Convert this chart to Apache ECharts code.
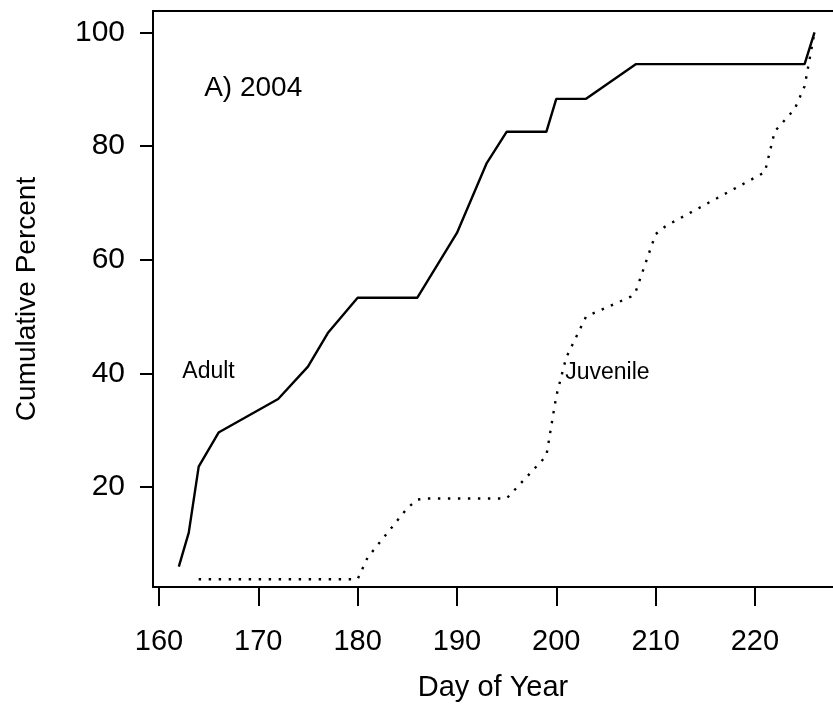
<!DOCTYPE html>
<html>
<head>
<meta charset="utf-8">
<script src="https://cdn.jsdelivr.net/npm/echarts@6/dist/echarts.min.js"></script>
<style>html,body{margin:0;padding:0;background:#fff;}#c{width:833px;height:714px;}</style>
</head>
<body>
<div id="c"></div>
<script>
// Adult cumulative percent by day of year (solid)
const adultDays = [162, 163, 164, 166, 172, 175, 177, 180, 186, 190, 193, 195, 199, 200, 203, 208, 225, 226];
const adultPct  = [6.0, 12.0, 23.6, 29.6, 35.5, 41.2, 47.1, 53.3, 53.3, 64.7, 77.0, 82.5, 82.5, 88.3, 88.3, 94.4, 94.4, 100];
// Juvenile cumulative percent by day of year (dotted)
const juvDays = [164, 180, 181, 185, 186, 187, 195, 199, 200, 201, 203, 207.5, 208, 210, 211, 221, 222, 224, 225, 226];
const juvPct  = [3.8, 3.8, 7.6, 16.3, 17.8, 18.0, 18.0, 25.5, 36.0, 42.8, 50.0, 53.5, 54.4, 64.5, 65.9, 75.4, 82.6, 86.5, 90.5, 100];
// Tick labels
const xTicks = [160, 170, 180, 190, 200, 210, 220];
const yTicks = [20, 40, 60, 80, 100];
// Text annotations [day, pct, text]
const notes = [[164.5, 90.2, 'A) 2004'], [162.3, 40.3, 'Adult'], [200.85, 40.1, 'Juvenile']];
const noteSizes = [28, 23, 23];

const FONT = '"Liberation Sans", Arial, Helvetica, sans-serif';
const X_MIN = 159.4, X_MAX = 227.86;
const chart = echarts.init(document.getElementById('c'), null, {renderer: 'canvas'});
chart.setOption({
  animation: false,
  backgroundColor: '#fff',
  grid: {left: 153, top: 11, right: 0, bottom: 127, show: false, containLabel: false},
  xAxis: [{
    type: 'value', min: X_MIN, max: X_MAX,
    name: 'Day of Year', nameLocation: 'middle', nameGap: 86,
    nameTextStyle: {fontFamily: FONT, fontSize: 29, color: '#000'},
    axisLine: {show: true, onZero: false, lineStyle: {color: '#000', width: 2}},
    axisTick: {show: true, length: 19, lineStyle: {color: '#000', width: 2}, customValues: xTicks},
    axisLabel: {fontFamily: FONT, fontSize: 29, color: '#000', margin: 40, customValues: xTicks},
    splitLine: {show: false}
  }, {
    type: 'value', min: X_MIN, max: X_MAX, position: 'top',
    axisLine: {show: true, onZero: false, lineStyle: {color: '#000', width: 2}},
    axisTick: {show: false}, axisLabel: {show: false}, splitLine: {show: false}
  }],
  yAxis: {
    type: 'value', min: 2.43, max: 103.75,
    name: 'Cumulative Percent', nameLocation: 'middle', nameGap: 112,
    nameTextStyle: {fontFamily: FONT, fontSize: 28, color: '#000'},
    axisLine: {show: true, onZero: false, lineStyle: {color: '#000', width: 2}},
    axisTick: {show: true, length: 13, lineStyle: {color: '#000', width: 2}, customValues: yTicks},
    axisLabel: {fontFamily: FONT, fontSize: 30, color: '#000', margin: 28, customValues: yTicks},
    splitLine: {show: false}
  },
  series: [
    {
      type: 'line', name: 'Adult', data: adultDays.map((d, i) => [d, adultPct[i]]),
      showSymbol: false, symbol: 'none', lineStyle: {color: '#000', width: 2.4}, clip: true
    },
    {
      type: 'line', name: 'Juvenile', data: juvDays.map((d, i) => [d, juvPct[i]]),
      showSymbol: false, symbol: 'none', lineStyle: {color: '#000', width: 2.4, type: [2.4, 7.6], cap: 'butt'}, clip: true
    },
    {
      type: 'scatter', symbolSize: 1, silent: true,
      itemStyle: {color: '#000', opacity: 0},
      label: {show: true, color: '#000', opacity: 1},
      emphasis: {disabled: true},
      data: notes.map((n, i) => ({
        value: [n[0], n[1]],
        label: {show: true, position: 'right', distance: 0, formatter: n[2], fontFamily: FONT, fontSize: noteSizes[i], color: '#000', opacity: 1}
      }))
    }
  ]
});
</script>
</body>
</html>
